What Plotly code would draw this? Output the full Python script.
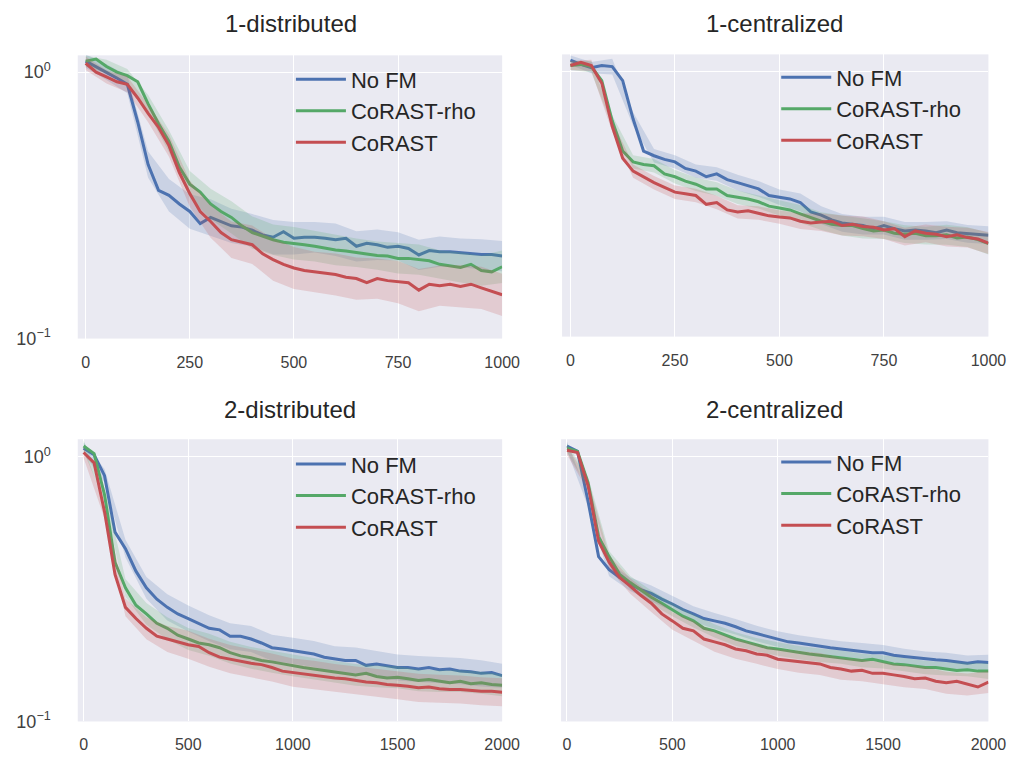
import plotly.graph_objects as go

# ---------------- data ----------------
series_names = ["No FM", "CoRAST-rho", "CoRAST"]
panel_titles = ["1-distributed", "1-centralized", "2-distributed", "2-centralized"]

x_top = list(range(0, 1001, 25))      # 41 points
x_bot = list(range(0, 2001, 50))      # 41 points
xticks_top = [0, 250, 500, 750, 1000]
xticks_bot = [0, 500, 1000, 1500, 2000]
yticks = [0.1, 1.0]
ytick_text = ["10<sup>−1</sup>", "10<sup>0</sup>"]

# 1-distributed
d1_nofm = [1.10, 1.05, 1.00, 0.95, 0.90, 0.65, 0.45, 0.36, 0.345, 0.32, 0.30, 0.27, 0.285, 0.275,
           0.265, 0.262, 0.255, 0.245, 0.24, 0.252, 0.238, 0.24, 0.24, 0.238, 0.235, 0.238, 0.222,
           0.228, 0.225, 0.22, 0.222, 0.218, 0.206, 0.214, 0.212, 0.212, 0.21, 0.208, 0.207, 0.207, 0.204]
d1_rho = [1.10, 1.12, 1.05, 1.00, 0.97, 0.92, 0.76, 0.64, 0.55, 0.44, 0.38, 0.355, 0.32, 0.30,
          0.285, 0.265, 0.25, 0.242, 0.235, 0.23, 0.228, 0.225, 0.222, 0.218, 0.215, 0.213, 0.21,
          0.207, 0.205, 0.204, 0.20, 0.20, 0.198, 0.196, 0.19, 0.188, 0.185, 0.19, 0.18, 0.178, 0.186]
d1_corast = [1.08, 1.00, 0.96, 0.92, 0.90, 0.80, 0.70, 0.62, 0.53, 0.42, 0.35, 0.30, 0.275, 0.25,
             0.235, 0.23, 0.225, 0.208, 0.198, 0.19, 0.184, 0.18, 0.178, 0.175, 0.174, 0.17, 0.168,
             0.162, 0.168, 0.165, 0.163, 0.162, 0.152, 0.16, 0.158, 0.16, 0.157, 0.16, 0.155, 0.15, 0.146]

# 1-centralized
c1_nofm = [1.10, 1.06, 1.03, 1.05, 1.04, 0.92, 0.66, 0.50, 0.48, 0.465, 0.455, 0.43, 0.42, 0.40,
           0.41, 0.39, 0.38, 0.37, 0.36, 0.34, 0.335, 0.33, 0.32, 0.295, 0.287, 0.275, 0.268, 0.265,
           0.262, 0.255, 0.262, 0.255, 0.25, 0.252, 0.25, 0.246, 0.252, 0.246, 0.244, 0.243, 0.241]
c1_rho = [1.05, 1.06, 1.04, 0.92, 0.65, 0.50, 0.455, 0.445, 0.44, 0.41, 0.40, 0.385, 0.375, 0.36,
          0.36, 0.34, 0.335, 0.33, 0.322, 0.31, 0.305, 0.30, 0.29, 0.28, 0.272, 0.265, 0.262, 0.262,
          0.255, 0.25, 0.252, 0.245, 0.243, 0.245, 0.24, 0.24, 0.242, 0.235, 0.237, 0.232, 0.224]
c1_corast = [1.05, 1.08, 1.05, 0.90, 0.62, 0.47, 0.42, 0.40, 0.38, 0.365, 0.35, 0.345, 0.34, 0.315,
             0.32, 0.30, 0.295, 0.298, 0.292, 0.285, 0.282, 0.28, 0.272, 0.268, 0.27, 0.272, 0.262,
             0.265, 0.26, 0.258, 0.252, 0.255, 0.238, 0.25, 0.245, 0.243, 0.238, 0.242, 0.236, 0.233, 0.225]

# 2-distributed
d2_nofm = [1.08, 1.02, 0.85, 0.52, 0.45, 0.37, 0.32, 0.29, 0.27, 0.255, 0.245, 0.235, 0.225, 0.222,
           0.21, 0.21, 0.205, 0.198, 0.19, 0.188, 0.185, 0.182, 0.18, 0.175, 0.172, 0.17, 0.17, 0.163,
           0.165, 0.162, 0.16, 0.16, 0.158, 0.16, 0.157, 0.158, 0.155, 0.154, 0.152, 0.153, 0.149]
d2_rho = [1.10, 1.03, 0.72, 0.40, 0.32, 0.275, 0.255, 0.235, 0.225, 0.212, 0.205, 0.198, 0.195, 0.19,
          0.182, 0.177, 0.174, 0.17, 0.168, 0.165, 0.163, 0.16, 0.158, 0.156, 0.154, 0.152, 0.15, 0.152,
          0.148, 0.146, 0.147, 0.145, 0.143, 0.144, 0.142, 0.14, 0.142, 0.139, 0.14, 0.138, 0.137]
d2_corast = [1.04, 0.95, 0.62, 0.36, 0.27, 0.245, 0.225, 0.21, 0.205, 0.20, 0.195, 0.192, 0.182, 0.175,
             0.172, 0.168, 0.166, 0.164, 0.16, 0.155, 0.153, 0.152, 0.15, 0.148, 0.146, 0.145, 0.143,
             0.141, 0.14, 0.138, 0.137, 0.136, 0.134, 0.135, 0.133, 0.132, 0.132, 0.131, 0.13, 0.13, 0.129]

# 2-centralized
c2_nofm = [1.10, 1.05, 0.68, 0.42, 0.375, 0.35, 0.33, 0.315, 0.305, 0.29, 0.278, 0.265, 0.255, 0.245,
           0.24, 0.235, 0.228, 0.22, 0.215, 0.21, 0.205, 0.20, 0.198, 0.195, 0.193, 0.19, 0.188, 0.186,
           0.185, 0.182, 0.182, 0.178, 0.176, 0.174, 0.172, 0.171, 0.17, 0.168, 0.166, 0.168, 0.167]
c2_rho = [1.08, 1.05, 0.80, 0.50, 0.42, 0.36, 0.335, 0.315, 0.295, 0.28, 0.265, 0.25, 0.24, 0.225,
          0.22, 0.212, 0.205, 0.20, 0.195, 0.19, 0.188, 0.185, 0.182, 0.18, 0.178, 0.176, 0.175, 0.172,
          0.17, 0.172, 0.168, 0.165, 0.164, 0.162, 0.16, 0.16, 0.158, 0.156, 0.157, 0.155, 0.155]
c2_corast = [1.06, 1.04, 0.78, 0.48, 0.40, 0.35, 0.325, 0.30, 0.28, 0.255, 0.24, 0.225, 0.22, 0.205,
             0.20, 0.195, 0.188, 0.185, 0.18, 0.178, 0.172, 0.17, 0.168, 0.166, 0.165, 0.16, 0.158,
             0.155, 0.156, 0.152, 0.152, 0.15, 0.148, 0.145, 0.146, 0.142, 0.14, 0.142, 0.138, 0.135, 0.141]

# multiplicative half-width of the shaded band, read every other point (21 values)
d1_nofm_sp = [1.06, 1.07, 1.08, 1.12, 1.15, 1.16, 1.17, 1.16, 1.15, 1.16, 1.15, 1.14, 1.15, 1.14, 1.14, 1.13, 1.14, 1.14, 1.13, 1.14, 1.14]
d1_rho_sp = [1.05, 1.06, 1.06, 1.08, 1.10, 1.12, 1.14, 1.15, 1.15, 1.14, 1.15, 1.14, 1.14, 1.13, 1.13, 1.14, 1.14, 1.13, 1.14, 1.14, 1.15]
d1_corast_sp = [1.06, 1.06, 1.07, 1.08, 1.10, 1.12, 1.15, 1.17, 1.18, 1.20, 1.20, 1.19, 1.20, 1.20, 1.19, 1.20, 1.20, 1.19, 1.20, 1.20, 1.20]
c1_nofm_sp = [1.04, 1.05, 1.07, 1.06, 1.06, 1.06, 1.06, 1.06, 1.07, 1.07, 1.07, 1.08, 1.08, 1.08, 1.08, 1.08, 1.08, 1.08, 1.08, 1.08, 1.08]
c1_rho_sp = [1.04, 1.05, 1.05, 1.06, 1.06, 1.06, 1.06, 1.06, 1.06, 1.06, 1.07, 1.08, 1.08, 1.09, 1.09, 1.08, 1.08, 1.08, 1.09, 1.09, 1.10]
c1_corast_sp = [1.04, 1.05, 1.05, 1.06, 1.06, 1.06, 1.06, 1.06, 1.06, 1.06, 1.06, 1.07, 1.08, 1.09, 1.09, 1.08, 1.08, 1.08, 1.09, 1.09, 1.10]
d2_nofm_sp = [1.05, 1.06, 1.08, 1.10, 1.12, 1.12, 1.12, 1.12, 1.12, 1.12, 1.12, 1.12, 1.12, 1.12, 1.12, 1.12, 1.12, 1.12, 1.12, 1.12, 1.11]
d2_rho_sp = [1.05, 1.06, 1.08, 1.10, 1.10, 1.10, 1.10, 1.10, 1.10, 1.10, 1.10, 1.10, 1.10, 1.10, 1.10, 1.10, 1.10, 1.10, 1.10, 1.10, 1.10]
d2_corast_sp = [1.05, 1.06, 1.08, 1.10, 1.12, 1.13, 1.13, 1.13, 1.13, 1.13, 1.13, 1.13, 1.13, 1.13, 1.13, 1.13, 1.13, 1.13, 1.13, 1.13, 1.13]
c2_nofm_sp = [1.04, 1.05, 1.06, 1.06, 1.07, 1.07, 1.07, 1.07, 1.07, 1.07, 1.07, 1.07, 1.07, 1.07, 1.07, 1.07, 1.07, 1.07, 1.07, 1.07, 1.07]
c2_rho_sp = [1.04, 1.05, 1.05, 1.06, 1.06, 1.06, 1.06, 1.06, 1.06, 1.06, 1.06, 1.06, 1.06, 1.06, 1.06, 1.06, 1.06, 1.06, 1.06, 1.06, 1.07]
c2_corast_sp = [1.04, 1.05, 1.06, 1.07, 1.08, 1.08, 1.09, 1.09, 1.09, 1.09, 1.09, 1.10, 1.10, 1.10, 1.10, 1.10, 1.10, 1.10, 1.10, 1.10, 1.10]

panels = [
    (x_top, [d1_nofm, d1_rho, d1_corast], [d1_nofm_sp, d1_rho_sp, d1_corast_sp]),
    (x_top, [c1_nofm, c1_rho, c1_corast], [c1_nofm_sp, c1_rho_sp, c1_corast_sp]),
    (x_bot, [d2_nofm, d2_rho, d2_corast], [d2_nofm_sp, d2_rho_sp, d2_corast_sp]),
    (x_bot, [c2_nofm, c2_rho, c2_corast], [c2_nofm_sp, c2_rho_sp, c2_corast_sp]),
]

# ---------------- style ----------------
W, H = 1022, 758
line_colors = ["#4C72B0", "#55A868", "#C44E52"]
band_colors = ["rgba(76,114,176,0.2)", "rgba(85,168,104,0.2)", "rgba(196,78,82,0.2)"]
FONT = "Liberation Sans, Arial, sans-serif"
TXT = "#262626"

# plot areas in pixels (left, right, top, bottom)
areas = [(71, 503, 48, 335), (564, 998, 47, 333), (71, 503, 437, 723), (563, 998, 437, 723)]
xranges = [[-19, 1000], [-20, 1000], [-28, 2000], [-28, 2000]]
yranges = [[-1, 0.063], [-1, 0.063], [-1, 0.067], [-1, 0.067]]
title_pos = [(288, 16), (780, 16), (287, 407), (780, 407)]
legend_pos = [(288, 51), (782, 49), (288, 441), (782, 439)]

fig = go.Figure()

for p, (xs, ys, sps) in enumerate(panels):
    k = "" if p == 0 else str(p + 1)
    leg = "legend" if p == 0 else "legend" + str(p + 1)
    for i in range(3):
        y = ys[i]
        bx = xs[::2]
        by = y[::2]
        lo = [v / s for v, s in zip(by, sps[i])]
        hi = [v * s for v, s in zip(by, sps[i])]
        fig.add_trace(go.Scatter(
            x=bx + bx[::-1], y=hi + lo[::-1], fill="toself", fillcolor=band_colors[i],
            line=dict(width=0), mode="lines", hoverinfo="skip", showlegend=False,
            xaxis="x" + k, yaxis="y" + k))
        fig.add_trace(go.Scatter(
            x=xs, y=y, mode="lines", name=series_names[i],
            line=dict(color=line_colors[i], width=3),
            xaxis="x" + k, yaxis="y" + k, legend=leg, showlegend=True))

layout = dict(
    width=W, height=H, margin=dict(l=0, r=0, t=0, b=0),
    paper_bgcolor="white", plot_bgcolor="#EAEAF2",
    font=dict(family=FONT, color=TXT, size=16),
    annotations=[], showlegend=True,
)

for p in range(4):
    l, r, t, b = areas[p]
    k = "" if p == 0 else str(p + 1)
    xt = xticks_top if p < 2 else xticks_bot
    layout["xaxis" + k] = dict(
        domain=[l / W, r / W], range=xranges[p], anchor="y" + k,
        tickvals=xt, ticktext=[str(v) for v in xt], showgrid=True, gridcolor="white",
        gridwidth=1, zeroline=False, showline=False, ticks="", ticklabelstandoff=12,
        tickfont=dict(size=16, color="#404040", family=FONT))
    layout["yaxis" + k] = dict(
        domain=[1 - b / H, 1 - t / H], type="log", range=yranges[p], anchor="x" + k,
        tickvals=yticks, ticktext=ytick_text, showgrid=True, gridcolor="white",
        gridwidth=1, zeroline=False, showline=False, ticks="", ticklabelstandoff=26,
        showticklabels=(p % 2 == 0),
        tickfont=dict(size=18, color="#404040", family=FONT))
    tx, ty = title_pos[p]
    layout["annotations"].append(dict(
        text=panel_titles[p], x=tx / W, y=1 - ty / H, xref="paper", yref="paper",
        xanchor="center", yanchor="middle", showarrow=False,
        font=dict(size=24, color=TXT, family=FONT)))
    lx, ly = legend_pos[p]
    layout["legend" if p == 0 else "legend" + str(p + 1)] = dict(
        x=lx / W, y=1 - ly / H, xanchor="left", yanchor="top",
        bgcolor="rgba(0,0,0,0)", borderwidth=0, tracegroupgap=0, itemwidth=50,
        font=dict(size=22, color=TXT, family=FONT))

fig.update_layout(**layout)
fig.write_html("out.html")
